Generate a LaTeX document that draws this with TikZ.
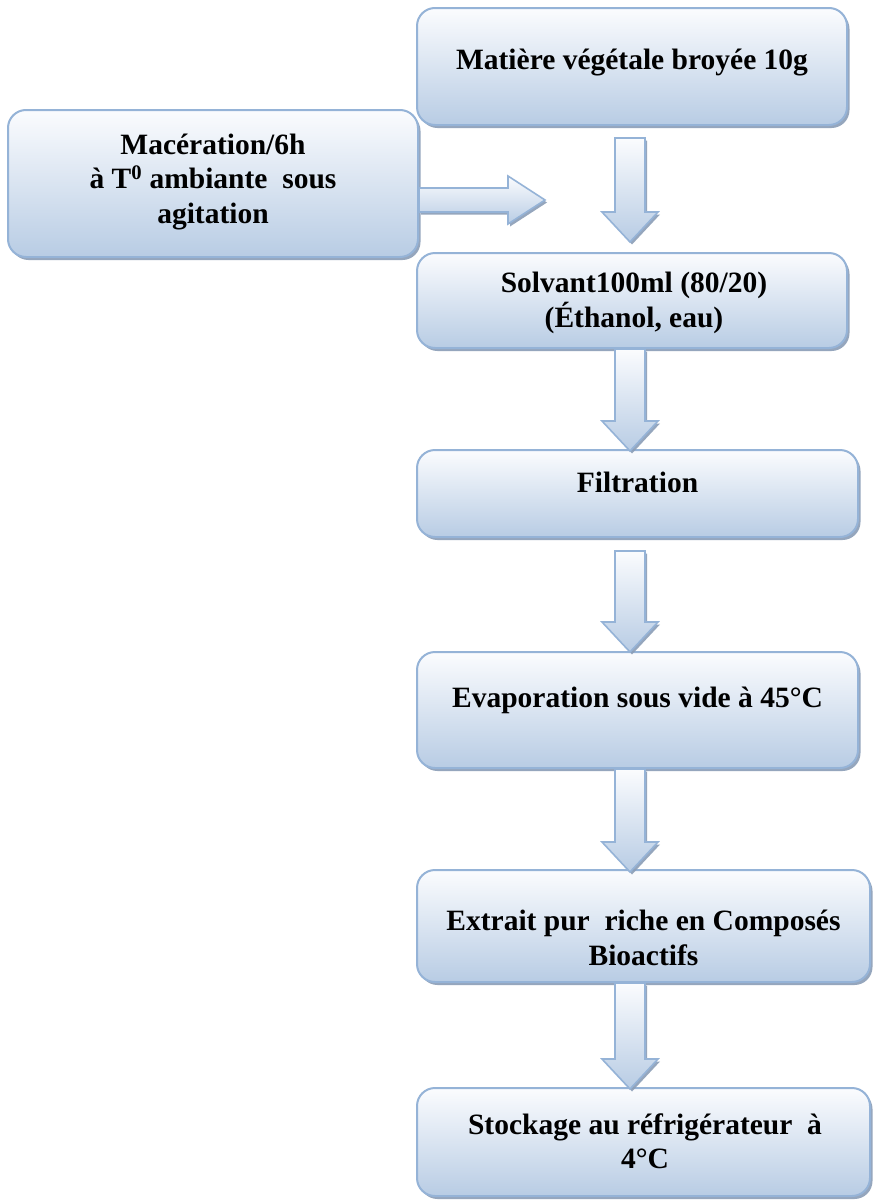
\documentclass[tikz,border=0pt]{standalone}
\usepackage{fontspec}
\setmainfont{Liberation Serif}
\usetikzlibrary{shadows,calc}
\definecolor{bord}{HTML}{95B3D7}
\definecolor{topc}{HTML}{FBFCFE}
\definecolor{botc}{HTML}{B8CCE4}
\definecolor{shad}{HTML}{8A9DB6}
\newcommand{\varrow}[2]{%
  \path[arr] let \p1=#1, \p2=#2 in
    (\x1-15pt,\y1) -- (\x1+15pt,\y1) -- (\x1+15pt,\y2+30pt) -- (\x1+28pt,\y2+30pt)
    -- (\x1,\y2) -- (\x1-28pt,\y2+30pt) -- (\x1-15pt,\y2+30pt) -- cycle;}
\newcommand{\harrow}[2]{%
  \path[arr] let \p1=#1, \p2=#2 in
    (\x1,\y1+12pt) -- (\x2-37pt,\y1+12pt) -- (\x2-37pt,\y1+24pt) -- (\x2,\y1)
    -- (\x2-37pt,\y1-24pt) -- (\x2-37pt,\y1-12pt) -- (\x1,\y1-12pt) -- cycle;}
\begin{document}
\begin{tikzpicture}[x=1pt,y=-1pt,
  boxst/.style={draw=bord, line width=2pt, rounded corners=18pt, inner sep=0pt,
    top color=topc, bottom color=botc,
    drop shadow={shadow xshift=2.5pt, shadow yshift=-3pt, fill=shad, opacity=0.9}},
  txt/.style={font=\bfseries\fontsize{29.5}{34.5}\selectfont, align=center, inner sep=0pt},
  arr/.style={draw=bord, line width=1.6pt, line join=miter, top color=topc, bottom color=botc,
    drop shadow={shadow xshift=2pt, shadow yshift=-2.5pt, fill=shad, opacity=0.9}}]
\useasboundingbox (0,0) rectangle (874,1202);
\fill[white] (0,0) rectangle (874,1202);
\coordinate (xa) at (630,0);
% boxes
\node[boxst, minimum width=430pt, minimum height=117pt] (b1) at (632,66.5) {};
\node[boxst, minimum width=410pt, minimum height=147pt] (mac) at (213,183.5) {};
\node[boxst, minimum width=430pt, minimum height=95pt] (b2) at (632,300.5) {};
\node[boxst, minimum width=441pt, minimum height=87pt] (b3) at (637.5,493.5) {};
\node[boxst, minimum width=441pt, minimum height=116pt] (b4) at (637.5,710) {};
\node[boxst, minimum width=453pt, minimum height=112pt] (b5) at (643.5,926) {};
\node[boxst, minimum width=453pt, minimum height=108pt] (b6) at (643.5,1142) {};
% texts
\node[txt] (t1) at (632,63) {Matière végétale broyée 10g};
\node[txt] (tm) at (213,182) {Macération/6h\\à T\textsuperscript{0} ambiante~ sous\\agitation};
\node[txt] (t2) at (634,303) {Solvant100ml (80/20)\\(Éthanol, eau)};
\node[txt] (t3) at (637.5,482) {Filtration};
\node[txt] (t4) at (637.5,700) {Evaporation sous vide à 45°C};
\node[txt] (t5) at (643.5,938) {Extrait pur~ riche en Composés\\Bioactifs};
\node[txt] (t6) at (645,1141) {Stockage au réfrigérateur~ à\\4°C};
% arrows
\coordinate (htip) at (545,200);
\harrow{(mac.east |- htip)}{(htip)}
\varrow{($(b1.south -| xa)+(0,12)$)}{($(b2.north -| xa)+(0,-10)$)}
\varrow{(b2.south -| xa)}{($(b3.north -| xa)+(0,2)$)}
\varrow{($(b3.south -| xa)+(0,13)$)}{($(b4.north -| xa)+(0,1)$)}
\varrow{(b4.south -| xa)}{($(b5.north -| xa)+(0,3)$)}
\varrow{(b5.south -| xa)}{($(b6.north -| xa)+(0,2)$)}
\end{tikzpicture}
\end{document}
